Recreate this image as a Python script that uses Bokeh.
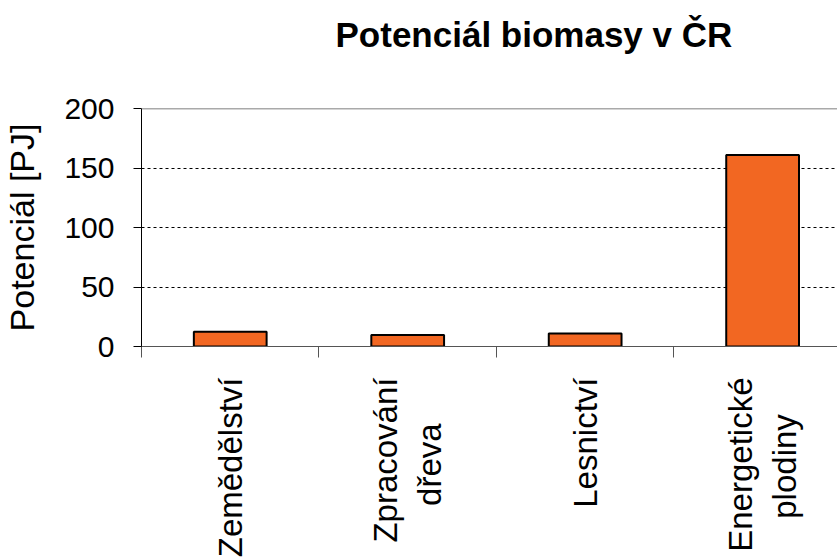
import math
from bokeh.plotting import figure
from bokeh.models import Range1d, FixedTicker, Span
from bokeh.embed import file_html
from bokeh.resources import INLINE

NB = "\u00a0"
categories = ["Zemědělství", "Zpracování\ndřeva" + NB * 5, "Lesnictví", "Energetické\nplodiny" + NB * 4]
values = [12.5, 9.7, 11.0, 161.0]
y_ticks = [0, 50, 100, 150, 200]
title_text = "Potenciál biomasy v ČR"
y_label = "Potenciál [PJ]"

FONT = "Liberation Sans"

centers = [i + 0.5 for i in range(len(categories))]
boundaries = list(range(len(categories) + 1))

p = figure(width=837, height=560, output_backend="svg", toolbar_location=None,
           x_range=Range1d(0, 3.922), y_range=Range1d(0, 200),
           min_border_left=140, min_border_right=0, min_border_top=108, min_border_bottom=212)
p.outline_line_color = None
p.background_fill_color = "white"
p.border_fill_color = "white"

p.title.text = title_text
p.title.text_font = FONT
p.title.text_font_size = "35px"
p.title.text_font_style = "bold"
p.title.align = "left"
p.title.offset = 194
p.title.vertical_align = "bottom"
p.title.standoff = 0
p.title.padding = dict(left=0, right=0, top=0, bottom=55)
p.title.text_color = "black"

p.vbar(x=centers, top=values, width=0.41, fill_color="#F26722", line_color="black", line_width=2)

p.add_layout(Span(location=200, dimension="width", line_color="#555555", line_width=1.5))

# y axis
ya = p.yaxis[0]
ya.ticker = FixedTicker(ticks=y_ticks)
ya.axis_label = y_label
ya.axis_label_text_font = FONT
ya.axis_label_text_font_size = "34px"
ya.axis_label_text_font_style = "normal"
ya.axis_label_text_color = "black"
ya.axis_label_standoff = 20
ya.major_label_text_font = FONT
ya.major_label_text_font_size = "30px"
ya.major_label_text_color = "black"
ya.major_label_standoff = 19
ya.major_tick_out = 8
ya.major_tick_in = 0
ya.minor_tick_out = 0
ya.minor_tick_in = 0
ya.axis_line_color = "black"
ya.major_tick_line_color = "black"

# x axis
xa = p.xaxis[0]
xa.ticker = FixedTicker(ticks=centers, minor_ticks=boundaries)
xa.major_label_overrides = {c: lab for c, lab in zip(centers, categories)}
xa.major_label_orientation = math.pi / 2
xa.major_label_text_font = FONT
xa.major_label_text_font_size = "33px"
xa.major_label_text_color = "black"
xa.major_label_standoff = 20
xa.major_tick_out = 0
xa.major_tick_in = 0
xa.minor_tick_out = 11
xa.minor_tick_in = 0
xa.minor_tick_line_color = "#555555"
xa.axis_line_color = "#555555"

p.xgrid.grid_line_color = None
p.ygrid.ticker = FixedTicker(ticks=[50, 100, 150])
p.ygrid.grid_line_color = "black"
p.ygrid.grid_line_dash = "3 3"
p.ygrid.grid_line_width = 1

open("out.html", "w").write(file_html(p, INLINE))
